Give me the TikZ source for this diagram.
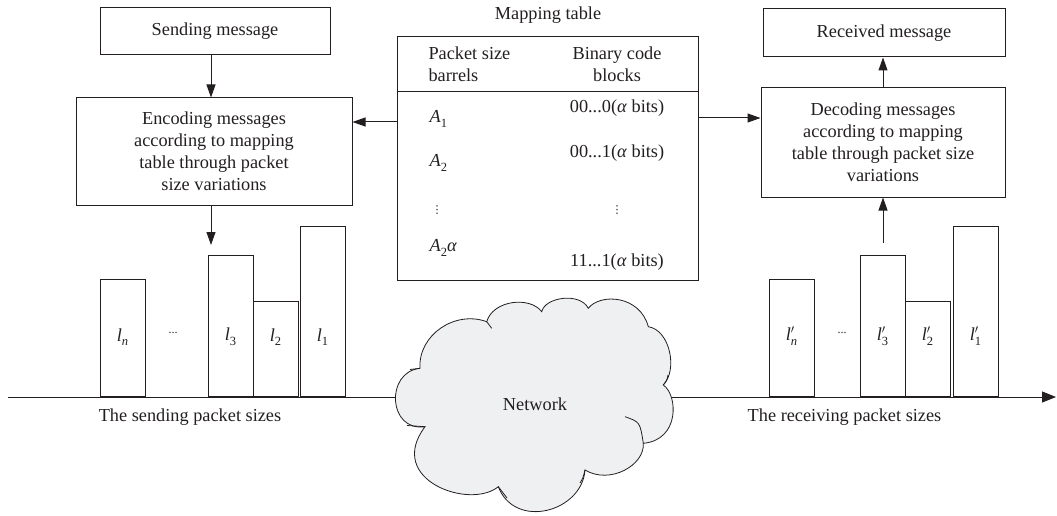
\documentclass[tikz,border=0pt]{standalone}
\usepackage{fontspec}
\setmainfont{Liberation Serif}
\newfontfamily\symfont{DejaVu Sans}
\usetikzlibrary{arrows.meta}
\definecolor{ink}{HTML}{231F20}
\definecolor{cloudfill}{HTML}{EFF0F2}
% italic symbol with a small upright/italic index
\newcommand\ilab[2]{\textit{#1}\raisebox{-0.55ex}{\fontsize{12.5}{12.5}\selectfont #2}}
% primed packet length l'_k
\newcommand\plab[1]{\textit{l}\rlap{\raisebox{0.1ex}{$^{\prime}$}}\raisebox{-0.55ex}{\fontsize{12.5}{12.5}\selectfont #1}}
\begin{document}
\begin{tikzpicture}[x=1pt,y=-1pt,
  font=\fontsize{18.3}{22}\selectfont, text=ink,
  box/.style={draw=ink, line width=1pt, align=center, inner sep=0pt},
  arr/.style={draw=ink, line width=1pt, -{Triangle[length=13pt,width=9pt]}},
  bar/.style={draw=ink, line width=1pt, fill=white, anchor=south west,
              minimum width=45pt, inner sep=0pt},
  small/.style={font=\fontsize{12}{12}\selectfont},
  vdot/.style={font=\symfont\fontsize{11}{11}\selectfont}]
\useasboundingbox (0,0) rectangle (1057,516);

% sender side
\node[box, minimum width=230pt, minimum height=47pt] (send) at (215,31.5) {Sending message};
\node[box, minimum width=276pt, minimum height=107pt] (enc) at (214,151.5)
  {Encoding messages\\according to mapping\\table through packet\\size variations};
\coordinate (encdown) at (211,245);
\draw[arr] (send.south -| encdown) -- (enc.north -| encdown);
\draw[arr] (enc.south -| encdown) -- (encdown);

% mapping table
\node (maptitle) at (548,15) {Mapping table};
\node[box, minimum width=301pt, minimum height=243pt] (table) at (547.5,158.5) {};
\coordinate (hline) at (0,92);
\draw[ink, line width=1pt] (table.west |- hline) -- (table.east |- hline);
\node[anchor=west, align=left] (hdrA) at (425,64) {Packet size\\barrels};
\node[align=center] (hdrB) at (617,64) {Binary code\\blocks};
\node[anchor=west] (rowA1) at (426,119) {\ilab{A}{1}};
\node (rowB1) at (617,108) {00...0(\textit{α} bits)};
\node[anchor=west] (rowA2) at (426,163) {\ilab{A}{2}};
\node (rowB2) at (617,153) {00...1(\textit{α} bits)};
\node[vdot] (rowA3) at (437,210) {⋮};
\node[vdot] (rowB3) at (617,210) {⋮};
\node[anchor=west] (rowA4) at (426,248) {\ilab{A}{2}\textit{α}};
\node (rowB4) at (617,262) {11...1(\textit{α} bits)};

% receiver side
\node[box, minimum width=242pt, minimum height=48pt] (recv) at (884,33) {Received message};
\node[box, minimum width=244pt, minimum height=109pt] (dec) at (883,142.5)
  {Decoding messages\\according to mapping\\table through packet size\\variations};
\coordinate (decup) at (883,243);
\draw[arr] (dec.north -| decup) -- (recv.south -| decup);
\draw[arr] (decup) -- (dec.south -| decup);

% table feeds both coders
\coordinate (tl) at (0,122);
\coordinate (tr) at (0,118);
\draw[arr] (table.west |- tl) -- (enc.east |- tl);
\draw[arr] (table.east |- tr) -- (dec.west |- tr);

% transmission axis
\coordinate (axstart) at (8,397);
\coordinate (axend) at (1056,397);
\draw[ink, line width=1pt, -{Triangle[length=14pt,width=11pt]}] (axstart) -- (axend);

% sent packet sizes
\node[bar, minimum height=117pt] (ln) at (100,397) {};
\node[bar, minimum height=141pt] (l3) at (208,397) {};
\node[bar, minimum height=95pt]  (l2) at (253,397) {};
\node[bar, minimum height=170pt] (l1) at (300,397) {};
\node (lnlab) at (122.5,337) {\ilab{l}{\textit{n}}};
\node[small] (ldots) at (173,333) {...};
\node (l3lab) at (230.5,337) {\ilab{l}{3}};
\node (l2lab) at (275.5,337) {\ilab{l}{2}};
\node (l1lab) at (322.5,337) {\ilab{l}{1}};
\node (sendlab) at (190,417) {The sending packet sizes};

% received packet sizes
\node[bar, minimum height=117pt] (rn) at (769,397) {};
\node[bar, minimum height=141pt] (r3) at (860,397) {};
\node[bar, minimum height=95pt]  (r2) at (905,397) {};
\node[bar, minimum height=170pt] (r1) at (953,397) {};
\node (rnlab) at (791.5,336) {\plab{\textit{n}}};
\node[small] (rdots) at (842,333) {...};
\node (r3lab) at (882.5,336) {\plab{3}};
\node (r2lab) at (927.5,336) {\plab{2}};
\node (r1lab) at (975.5,336) {\plab{1}};
\node (recvlab) at (844.5,417) {The receiving packet sizes};

% network cloud
\filldraw[draw=ink, fill=cloudfill, line width=0.8pt]
  (486.7,321.7) .. controls (493,300) and (530,296) .. (541.7,311.7)
  .. controls (545,297) and (580,292) .. (588.3,308.3)
  .. controls (600,293) and (640,295) .. (648.3,326.7)
  .. controls (670,330) and (678,370) .. (663.3,385)
  .. controls (678,395) and (680,440) .. (643.3,443.3)
  .. controls (645,465) and (610,485) .. (585,470)
  .. controls (582,512) and (515,530) .. (498.3,486.7)
  .. controls (470,510) and (385,480) .. (425,426.7)
  .. controls (388,432) and (385,372) .. (420,368.3)
  .. controls (418,335) and (455,310) .. cycle;
% inner curls of the cloud outline
\draw[ink, line width=0.8pt] (486.7,321.7) -- (491.7,328.3);
\draw[ink, line width=0.8pt] (668,375) .. controls (667,380) .. (663.3,385);
\draw[ink, line width=0.8pt] (625,416.7) .. controls (640,422) .. (643.3,443.3);
\draw[ink, line width=0.8pt] (585,470) .. controls (583,478) .. (580,483);
\draw[ink, line width=0.8pt] (498.3,486.7) .. controls (503,493) .. (507,498);
\draw[ink, line width=0.8pt] (425,426.7) -- (407,425.5);
\draw[ink, line width=0.8pt] (420,368.3) -- (410,369.5);
\node (network) at (535,404) {Network};
\end{tikzpicture}
\end{document}
